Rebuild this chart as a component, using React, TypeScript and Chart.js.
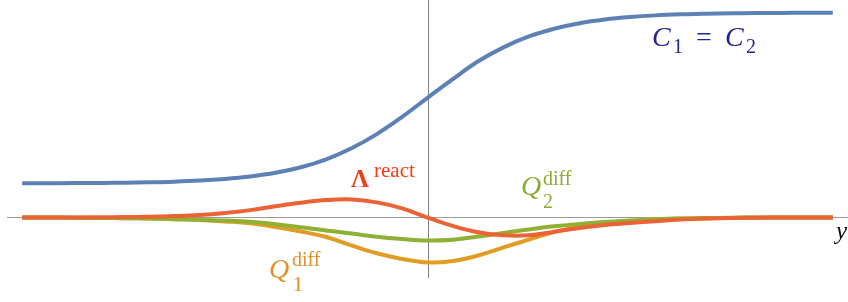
import React, { useEffect, useRef } from "react";
import { Chart, registerables } from "chart.js";

Chart.register(...registerables);

// position along the horizontal axis (y)
const xs = [
  -8, -7.5, -7, -6.5, -6, -5.5, -5, -4.5, -4, -3.5, -3, -2.5, -2, -1.5, -1, -0.5, 0,
  0.5, 1, 1.5, 2, 2.5, 3, 3.5, 4, 4.5, 5, 5.5, 6, 6.5, 7, 7.5, 8,
];

// C1 = C2
const cValues = [
  0.167, 0.167, 0.168, 0.168, 0.17, 0.172, 0.175, 0.18, 0.188, 0.2, 0.218, 0.245, 0.284, 0.338, 0.407, 0.491, 0.584,
  0.675, 0.762, 0.83, 0.883, 0.921, 0.948, 0.966, 0.978, 0.986, 0.991, 0.994, 0.996, 0.998, 0.998, 0.999, 0.999,
];

// Q1 diff
const q1Values = [
  0, 0, -0.001, -0.002, -0.003, -0.005, -0.008, -0.012, -0.019, -0.028, -0.046, -0.068, -0.095, -0.136, -0.174, -0.202, -0.219,
  -0.212, -0.185, -0.146, -0.108, -0.071, -0.046, -0.028, -0.016, -0.009, -0.005, -0.003, -0.002, -0.001, 0, 0, 0,
];

// Q2 diff
const q2Values = [
  0, 0, -0.001, -0.002, -0.003, -0.005, -0.008, -0.011, -0.015, -0.021, -0.033, -0.047, -0.063, -0.078, -0.094, -0.105, -0.112,
  -0.108, -0.093, -0.075, -0.058, -0.043, -0.031, -0.022, -0.015, -0.009, -0.005, -0.003, -0.001, 0, 0, 0, 0,
];

// Lambda react
const lambdaValues = [
  0, 0, 0, 0.001, 0.002, 0.004, 0.007, 0.012, 0.022, 0.036, 0.055, 0.072, 0.085, 0.088, 0.074, 0.045, 0,
  -0.041, -0.072, -0.087, -0.087, -0.069, -0.051, -0.036, -0.027, -0.018, -0.01, -0.005, -0.002, -0.001, 0, 0, 0,
];

const xRange = [-8.3, 8.3];
const yRange = [-0.295, 1.061];

const SERIF = '"Liberation Serif", "DejaVu Serif", serif';

type Seg = { t: string; dx: number; dy: number; size: number; italic?: boolean; bold?: boolean };
type Label = { x: number; y: number; color: string; segs: Seg[] };

const labels: Label[] = [
  {
    x: 652, y: 46, color: "#22229a",
    segs: [
      { t: "C", dx: 0, dy: 0, size: 28, italic: true },
      { t: "1", dx: 21, dy: 7, size: 20 },
      { t: "=", dx: 44, dy: 0, size: 28 },
      { t: "C", dx: 73, dy: 0, size: 28, italic: true },
      { t: "2", dx: 94, dy: 7, size: 20 },
    ],
  },
  {
    x: 351, y: 187, color: "#f53c14",
    segs: [
      { t: "Λ", dx: 0, dy: 0, size: 25, bold: true },
      { t: "react", dx: 23, dy: -10, size: 21 },
    ],
  },
  {
    x: 521, y: 195, color: "#8aab35",
    segs: [
      { t: "Q", dx: 0, dy: 0, size: 28, italic: true },
      { t: "diff", dx: 22, dy: -10, size: 20 },
      { t: "2", dx: 22, dy: 13, size: 20 },
    ],
  },
  {
    x: 269, y: 278, color: "#e2902a",
    segs: [
      { t: "Q", dx: 0, dy: 0, size: 28, italic: true },
      { t: "diff", dx: 23, dy: -12, size: 20 },
      { t: "1", dx: 24, dy: 13, size: 20 },
    ],
  },
  {
    x: 836, y: 239, color: "#111111",
    segs: [{ t: "y", dx: 0, dy: 0, size: 25, italic: true }],
  },
];

const axesPlugin = {
  id: "crossAxes",
  beforeDatasetsDraw(chart: any) {
    const { ctx, chartArea, scales } = chart;
    const y0 = scales.y.getPixelForValue(0);
    const x0 = scales.x.getPixelForValue(0);
    ctx.save();
    ctx.lineWidth = 1;
    ctx.strokeStyle = "#9a9a9a";
    ctx.beginPath();
    ctx.moveTo(chartArea.left, y0);
    ctx.lineTo(chartArea.right, y0);
    ctx.stroke();
    ctx.strokeStyle = "#808080";
    ctx.beginPath();
    ctx.moveTo(Math.round(x0) + 0.5, chartArea.top);
    ctx.lineTo(Math.round(x0) + 0.5, chartArea.bottom);
    ctx.stroke();
    ctx.restore();
  },
  afterDatasetsDraw(chart: any) {
    const { ctx } = chart;
    ctx.save();
    ctx.textBaseline = "alphabetic";
    ctx.textAlign = "left";
    for (const l of labels) {
      ctx.fillStyle = l.color;
      for (const s of l.segs) {
        ctx.font = `${s.italic ? "italic " : ""}${s.bold ? "bold " : ""}${s.size}px ${SERIF}`;
        ctx.fillText(s.t, l.x + s.dx, l.y + s.dy);
      }
    }
    ctx.restore();
  },
};

export default function App() {
  const ref = useRef<HTMLCanvasElement | null>(null);

  useEffect(() => {
    if (!ref.current) return;
    const mk = (vals: number[]) => xs.map((x, i) => ({ x, y: vals[i] }));
    const common = {
      pointRadius: 0,
      borderWidth: 4,
      fill: false,
      tension: 0.4,
      clip: false as any,
      borderCapStyle: "butt" as const,
    };
    const chart = new Chart(ref.current, {
      type: "line",
      data: {
        datasets: [
          { ...common, label: "Λ react", data: mk(lambdaValues), borderColor: "#eb6235", order: 0 },
          { ...common, label: "Q2 diff", data: mk(q2Values), borderColor: "#8fb032", order: 1 },
          { ...common, label: "Q1 diff", data: mk(q1Values), borderColor: "#e19c24", order: 2 },
          { ...common, label: "C1 = C2", data: mk(cValues), borderColor: "#5e81b5", order: 3 },
        ],
      },
      options: {
        animation: false,
        responsive: false,
        events: [],
        layout: { padding: { left: 7, right: 0, top: 0, bottom: 24 } },
        plugins: { legend: { display: false }, tooltip: { enabled: false } },
        scales: {
          x: { type: "linear", min: xRange[0], max: xRange[1], display: false },
          y: { type: "linear", min: yRange[0], max: yRange[1], display: false },
        },
      },
      plugins: [axesPlugin],
    });
    return () => chart.destroy();
  }, []);

  return (
    <div style={{ position: "fixed", left: 0, top: 0, width: 848, height: 302, background: "#fff" }}>
      <canvas ref={ref} width={848} height={302} />
    </div>
  );
}
